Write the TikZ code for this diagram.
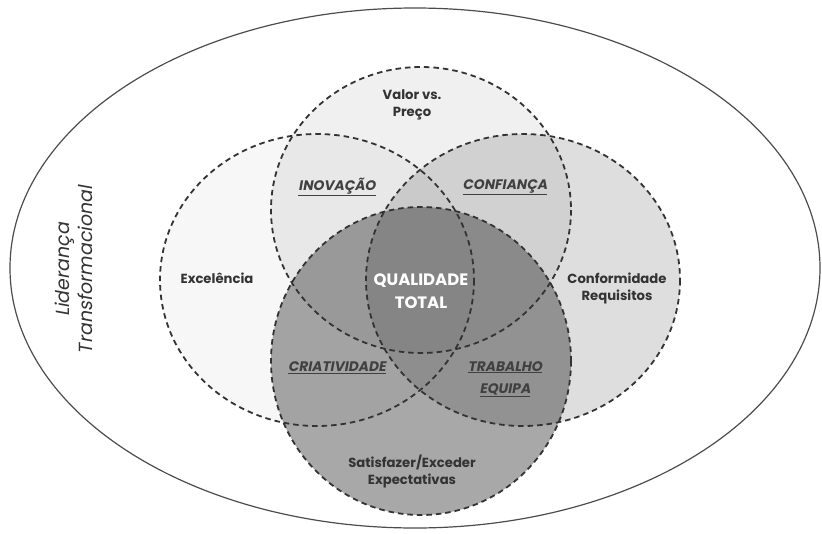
\documentclass[tikz,border=0pt]{standalone}
\usepackage{fontspec}
\setmainfont{Poppins}
\newfontfamily\slfont[FakeSlant=0.18]{Poppins}
\usetikzlibrary{positioning}

\begin{document}
\begin{tikzpicture}[x=1pt,y=-1pt,
	setline/.style={draw=black!80, line width=1.8pt, dash pattern=on 5.5pt off 4pt},
	lbl/.style={font=\bfseries\fontsize{13.2}{17}\selectfont, text=black!80, align=center},
	inter/.style={font=\slfont\bfseries\fontsize{13.8}{22}\selectfont, text=black!75, align=center},
	core/.style={font=\bfseries\fontsize{16.5}{23}\selectfont, text=white, align=center}]
	\useasboundingbox (0,0) rectangle (822,533);
	% outer frame
	\draw[black!70, line width=1.2pt] (415,268) ellipse [x radius=405, y radius=260];
	
	% the four sets
	\fill[black, fill opacity=0.06] (421,210) ellipse [x radius=150, y radius=143];
	\fill[black, fill opacity=0.03] (317,280) ellipse [x radius=157, y radius=146];
	\fill[black, fill opacity=0.13] (523,280) ellipse [x radius=157, y radius=146];
	\fill[black, fill opacity=0.34] (421,361) ellipse [x radius=150, y radius=154];
	\draw[setline] (421,210) ellipse [x radius=150, y radius=143];
	\draw[setline] (317,280) ellipse [x radius=157, y radius=146];
	\draw[setline] (523,280) ellipse [x radius=157, y radius=146];
	\draw[setline] (421,361) ellipse [x radius=150, y radius=154];
	
	\node[core] (qt) at (421,291) {QUALIDADE\\TOTAL};
	\node[lbl] (valor) at (412,105) {Valor vs.\\Preço};
	\node[lbl] (exc) at (217,278) {Excelência};
	\node[lbl] (conf) at (617,288) {Conformidade\\Requisitos};
	\node[lbl] (sat) at (412,471) {Satisfazer/Exceder\\Expectativas};
	
	\node[inter] (inov) at (337,187) {\underline{INOVAÇÃO}};
	\node[inter] (confi) at (505,187) {\underline{CONFIANÇA}};
	\node[inter] (cria) at (337,368) {\underline{CRIATIVIDADE}};
	\node[inter] (trab) at (505,379) {\underline{TRABALHO}\\\underline{EQUIPA}};
	
	\node[rotate=90, font=\slfont\fontsize{19}{23}\selectfont, text=black!80, align=center] (lider) at (74,270) {Liderança\\Transformacional};
\end{tikzpicture}
\end{document}
